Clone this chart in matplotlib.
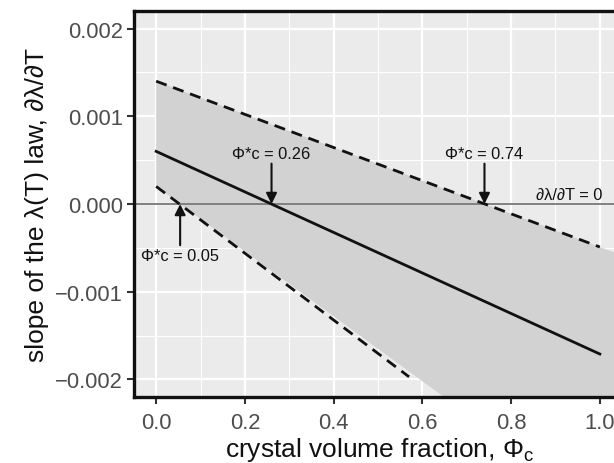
import matplotlib.pyplot as plt
from matplotlib.ticker import MultipleLocator

plt.rcParams['font.family'] = ['Liberation Sans', 'DejaVu Sans']
plt.rcParams['mathtext.fontset'] = 'custom'
plt.rcParams['mathtext.rm'] = 'Liberation Sans'
plt.rcParams['mathtext.it'] = 'Liberation Sans:italic'

# Fitted slope of the lambda(T) law and its confidence envelope
phi = [0.0, 1.0]
slope_fit = [0.0006, -0.00171]
phi_upper = [0.0, 1.0]
slope_upper = [0.0014, -0.00049]
phi_lower = [0.0, 0.57]
slope_lower = [0.0002, -0.00197]

# shaded envelope runs past the panel edges
phi_band = [0.0, 1.2]
band_hi = [0.0014, -0.000868]
band_lo = [0.0002, -0.00424]

# critical crystal fractions where the slope changes sign
crit_phi = [0.26, 0.74, 0.05]
crit_text = ['Φ*c = 0.26', 'Φ*c = 0.74', 'Φ*c = 0.05']

fig = plt.figure(figsize=(6.14, 4.64), dpi=100)
ax = fig.add_axes([134 / 614, 66 / 464, 488 / 614, 386 / 464])
ax.set_facecolor('#EBEBEB')

ax.set_xlim(-0.05, 1.05)
ax.set_ylim(-0.0022, 0.0022)
ax.xaxis.set_major_locator(MultipleLocator(0.2))
ax.xaxis.set_minor_locator(MultipleLocator(0.1))
ax.yaxis.set_major_locator(MultipleLocator(0.001))
ax.yaxis.set_minor_locator(MultipleLocator(0.0005))
ax.grid(which='major', color='white', linewidth=1.6)
ax.grid(which='minor', color='white', linewidth=0.8)
ax.set_axisbelow(True)

ax.fill_between(phi_band, band_lo, band_hi, color='#D2D2D3', linewidth=0, zorder=1)
ax.axhline(0, color='#808080', linewidth=1.4, zorder=2)
ax.plot(phi, slope_fit, color='#111111', linewidth=2.0, zorder=3)
ax.plot(phi_upper, slope_upper, color='#111111', linewidth=2.0, linestyle=(0, (4, 2.5)), zorder=3)
ax.plot(phi_lower, slope_lower, color='#111111', linewidth=2.0, linestyle=(0, (4, 2.5)), zorder=3)

arrow = dict(arrowstyle='-|>', color='#111111', linewidth=1.5, mutation_scale=16,
             shrinkA=0, shrinkB=0)
for x, label in zip(crit_phi[:2], crit_text[:2]):
    ax.text(x, 0.00057, label, ha='center', va='center', fontsize=11.8, color='#111111')
    ax.annotate('', xy=(x, 0), xytext=(x, 0.00046), arrowprops=arrow)
ax.text(crit_phi[2] + 0.004, -0.00059, crit_text[2], ha='center', va='center',
        fontsize=11.8, color='#111111')
ax.annotate('', xy=(crit_phi[2] + 0.004, 0), xytext=(crit_phi[2] + 0.004, -0.00047),
            arrowprops=arrow)
ax.text(0.93, 0.00011, '∂λ/∂T = 0', ha='center', va='center', fontsize=11.8, color='#111111')

for side in ['top', 'left', 'bottom', 'right']:
    ax.spines[side].set_linewidth(2.4)
    ax.spines[side].set_color('#111111')

ax.tick_params(which='major', length=5, width=1.5, color='#333333', labelsize=15.8,
               labelcolor='#4D4D4D')
ax.tick_params(axis='x', which='major', pad=6)
ax.tick_params(axis='y', which='major', pad=3)
ax.tick_params(which='minor', length=0)
ax.set_xticks([0.0, 0.2, 0.4, 0.6, 0.8, 1.0])
ax.set_xticklabels(['0.0', '0.2', '0.4', '0.6', '0.8', '1.0'])
ax.set_yticks([-0.002, -0.001, 0.0, 0.001, 0.002])
ax.set_yticklabels(['\u22120.002', '\u22120.001', '0.000', '0.001', '0.002'])

# x title sits low, its subscript runs to the bottom edge
fig.text(380 / 614, 7 / 464, 'crystal volume fraction, Φ$_\\mathrm{c}$', fontsize=19,
         color='#111111', ha='center', va='baseline')
ax.set_ylabel('slope of the λ(T) law, ∂λ/∂T', fontsize=19, color='#111111', labelpad=4)

fig.savefig('out.png', dpi=100)
